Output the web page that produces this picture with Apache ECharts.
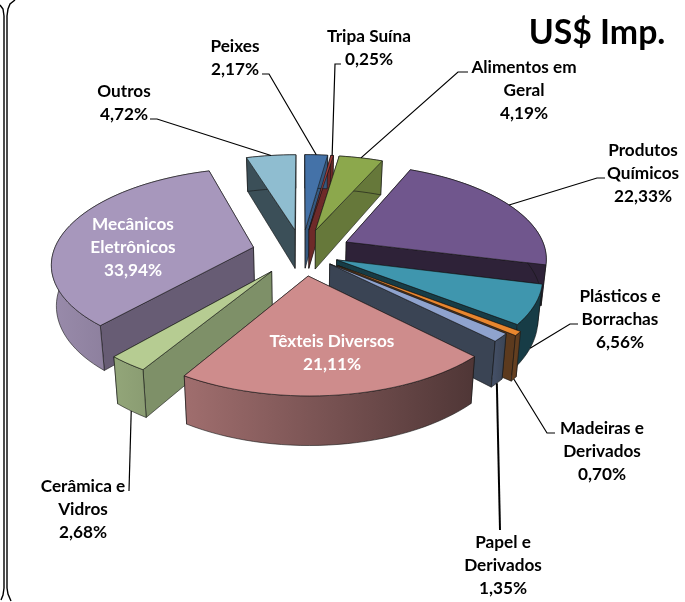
<!DOCTYPE html>
<html>
<head>
<meta charset="utf-8">
<style>
  html, body { margin: 0; padding: 0; background: #fff; }
  #chart { width: 685px; height: 602px; }
</style>
<script src="https://cdn.jsdelivr.net/npm/echarts@6/dist/echarts.min.js"></script>
</head>
<body>
<div id="chart"></div>
<script>
const categories = ['Peixes', 'Tripa Suína', 'Alimentos em\nGeral', 'Produtos\nQuímicos', 'Plásticos e\nBorrachas',
  'Madeiras e\nDerivados', 'Papel e\nDerivados', 'Têxteis Diversos', 'Cerâmica e\nVidros', 'Mecânicos\nEletrônicos', 'Outros']
const shares = [2.17, 0.25, 4.19, 22.33, 6.56, 0.70, 1.35, 21.11, 2.68, 33.94, 4.72]

// look of each slice, same order as above
const topColors = ['#4472a8', '#a03c3a', '#8ca84c', '#70568d', '#3f96ae', '#e8862e', '#8fa3ce', '#ce8c8c', '#b6cc92', '#a797bc', '#8fbdd0']
const cutColors = ['#35587f', '#6e2a29', '#66783a', '#2e2238', '#173c46', '#5c3a1e', '#3a4454', '#5a3c3c', '#7e9068', '#675c74', '#3b4f58']
const rimColors = [
  ['#35587f', '#35587f'], ['#6e2a29', '#6e2a29'], ['#66783a', '#66783a'], ['#2e2238', '#2e2238'],
  ['#173c46', '#173c46'], ['#6a4322', '#5c3a1e'], ['#46526a', '#3a4454'], ['#a06e6e', '#4f3636'],
  ['#93a679', '#8a9c72'], ['#998bab', '#766a84'], ['#3b4f58', '#3b4f58']
]
const explode = [0.25, 0.25, 0.25, 0.25, 0.19, 0.225, 0.185, 0.25, 0.25, 0.25, 0.25]

// painter's order, back to front
const drawOrder = [10, 0, 1, 2, 3, 9, 4, 5, 6, 8, 7]

// label centre [x, y of first line], leader [start points], where the leader lands (z: 0 top rim, 1 bottom rim)
const labelPos = [[235, 46], [369, 36], [524, 67], [643, 150], [620, 296], [602, 428], [503, 542], [332, 341], [83, 486], [133, 224], [124, 91]]
const leaderFrom = [
  [[262, 74], [269, 74]], [[341, 64], [335, 64]], [[468, 72], [458, 72]], [[605, 178], [597, 178]], [[578, 324], [570, 324]],
  [[555, 433], [547, 433]], [[500, 530], [500, 530]], null, [[129, 491], [129, 491]], null, [[150, 119], [157, 119]]
]
const leaderZ = [0, 0, 0, 0, 1, 1, 1, 0, 1, 0, 0]
const whiteLabels = [7, 9]

// projection fitted to the picture
const cx = 302, cy = 252, scaleX = 200, scaleY = 93, persp = 0.155, depth = 40

function project(x, y, z) {
  const s = 1 / (1 - persp * y)
  return [cx + scaleX * x * s * (1 - z * 0.02), cy + scaleY * y * s + z * depth * s]
}

const total = shares.reduce((a, b) => a + b, 0)
const startAngle = []
shares.reduce((sum, v, i) => {
  startAngle[i] = sum / total * Math.PI * 2
  return sum + v
}, 0)

function face(points, fill, z2) {
  return {
    type: 'polygon',
    z2: z2,
    shape: { points: points },
    style: { fill: fill, stroke: 'rgba(20,20,20,0.85)', lineWidth: 0.7, lineJoin: 'round' }
  }
}

function renderSlice(params, api) {
  const i = api.value(0)
  const a0 = startAngle[i]
  const a1 = a0 + api.value(1) / total * Math.PI * 2
  const mid = (a0 + a1) / 2
  const e = explode[i]
  const ox = Math.sin(mid) * e
  const oy = -Math.cos(mid) * e
  const rimAt = (a) => [ox + Math.sin(a), oy - Math.cos(a)]

  const steps = Math.max(2, Math.ceil((a1 - a0) / 0.04))
  const rim = []
  for (let k = 0; k <= steps; k++) rim.push(rimAt(a0 + (a1 - a0) * k / steps))

  const topPts = [project(ox, oy, 0)].concat(rim.map((p) => project(p[0], p[1], 0)))
  const cutWall = (p) => [project(ox, oy, 0), project(p[0], p[1], 0), project(p[0], p[1], 1), project(ox, oy, 1)]
  const rimWall = rim.map((p) => project(p[0], p[1], 0)).concat(rim.slice().reverse().map((p) => project(p[0], p[1], 1)))
  const rimFill = new echarts.graphic.LinearGradient(0, 0, 1, 0, [
    { offset: 0, color: rimColors[i][0] }, { offset: 1, color: rimColors[i][1] }
  ])

  const walls = [
    { y: rim[0][1] + oy, shape: face(cutWall(rim[0]), cutColors[i], 1) },
    { y: rim[steps][1] + oy, shape: face(cutWall(rim[steps]), cutColors[i], 1) }
  ].sort((a, b) => a.y - b.y).map((w) => w.shape)

  const children = walls.concat([face(rimWall, rimFill, 2), face(topPts, topColors[i], 3)])

  const from = leaderFrom[i]
  if (from) {
    const land = rimAt(mid)
    children.push({
      type: 'polyline',
      z2: 50,
      shape: { points: from.concat([project(land[0], land[1], leaderZ[i])]) },
      style: { fill: null, stroke: '#000', lineWidth: i === 6 ? 2 : 1.2 }
    })
  }
  const white = whiteLabels.indexOf(i) >= 0
  children.push({
    type: 'text',
    z2: 60,
    style: {
      x: labelPos[i][0],
      y: labelPos[i][1] - 11.5,
      text: categories[i] + '\n' + shares[i].toFixed(2).replace('.', ',') + '%',
      align: 'center',
      verticalAlign: 'top',
      lineHeight: 23,
      font: 'bold 17.2px Lato',
      fill: white ? '#fff' : '#000'
    }
  })
  return { type: 'group', children: children }
}

const frameStyle = { fill: null, stroke: '#000', lineWidth: 1.4 }
const chart = echarts.init(document.getElementById('chart'), null, { renderer: 'canvas' })
chart.setOption({
  animation: false,
  backgroundColor: '#fff',
  graphic: [
    { type: 'polyline', shape: { points: [[0, 5], [3, 9], [4, 16], [4, 588], [3, 595], [1, 600]] }, style: frameStyle },
    { type: 'polyline', shape: { points: [[15, 0], [10, 4], [8, 9], [7, 16], [7, 588], [8, 594], [11, 601]] }, style: frameStyle },
    { type: 'text', style: { x: 597, y: 33, text: 'US$ Imp.', align: 'center', verticalAlign: 'middle', font: 'bold 33.8px Lato', fill: '#000' } }
  ],
  series: [{
    type: 'custom',
    coordinateSystem: 'none',
    silent: true,
    renderItem: renderSlice,
    data: drawOrder.map((i) => [i, shares[i]])
  }]
})
</script>
</body>
</html>
